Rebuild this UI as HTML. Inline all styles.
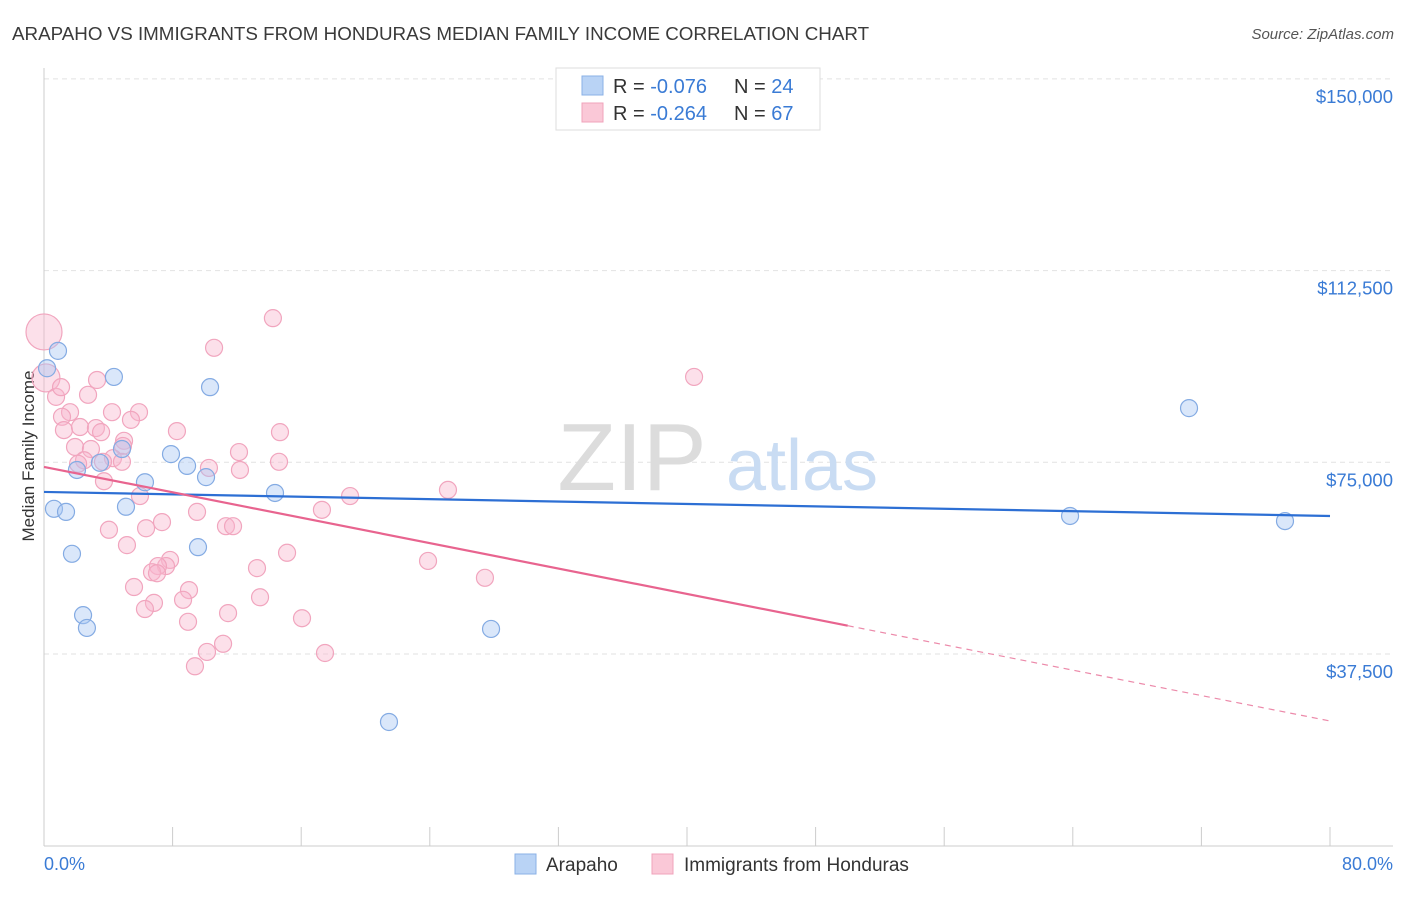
<!DOCTYPE html>
<html><head><meta charset="utf-8"><style>
body{margin:0;background:#fff;font-family:"Liberation Sans",sans-serif;}
svg text{font-family:"Liberation Sans",sans-serif;}
</style></head><body>
<svg id="chart" width="1406" height="892" viewBox="0 0 1406 892" xmlns="http://www.w3.org/2000/svg">
<text x="12" y="40" font-size="18.8" fill="#3a3a3a">ARAPAHO VS IMMIGRANTS FROM HONDURAS MEDIAN FAMILY INCOME CORRELATION CHART</text>
<text x="1394" y="39" font-size="15" fill="#555" font-style="italic" text-anchor="end">Source: ZipAtlas.com</text>
<g id="grid"></g>
<g>
<text x="632" y="490" font-size="96" fill="#dcdcdc" font-family="Liberation Serif,serif" text-anchor="middle">ZIP</text>
<text x="802" y="490" font-size="72" fill="#c9dcf3" text-anchor="middle">atlas</text>
</g>
<text transform="translate(34,456) rotate(-90)" font-size="17" fill="#333" text-anchor="middle">Median Family Income</text>
<g id="marks"></g>
<g>
<rect x="556" y="68" width="264" height="62" fill="#fff" stroke="#ddd"/>
<rect x="582" y="76" width="21" height="19" fill="#b9d3f5" stroke="#8ab0e6"/>
<rect x="582" y="103" width="21" height="19" fill="#fac8d7" stroke="#f0a3bb"/>
<text x="613" y="93" font-size="20" fill="#333">R = <tspan fill="#3a7bd5">-0.076</tspan></text>
<text x="734" y="93" font-size="20" fill="#333">N = <tspan fill="#3a7bd5">24</tspan></text>
<text x="613" y="120" font-size="20" fill="#333">R = <tspan fill="#3a7bd5">-0.264</tspan></text>
<text x="734" y="120" font-size="20" fill="#333">N = <tspan fill="#3a7bd5">67</tspan></text>
</g>
<g>
<rect x="515" y="854" width="21" height="20" fill="#b9d3f5" stroke="#8ab0e6"/>
<text x="546" y="871" font-size="19" fill="#333">Arapaho</text>
<rect x="652" y="854" width="21" height="20" fill="#fac8d7" stroke="#f0a3bb"/>
<text x="684" y="871" font-size="19" fill="#333">Immigrants from Honduras</text>
</g>
<text x="44" y="870" font-size="18" fill="#3a7bd5">0.0%</text>
<text x="1393" y="870" font-size="18" fill="#3a7bd5" text-anchor="end">80.0%</text>
</svg>
<script>
const yTicks=[37500,75000,112500,150000];
const yTickLabels=["$37,500","$75,000","$112,500","$150,000"];
const xTicks=[0,8,16,24,32,40,48,56,64,72,80];
const arapahoX=[0.87,0.19,4.35,10.33,71.23,4.85,7.90,3.48,2.05,8.90,10.08,6.28,14.37,0.62,1.37,5.10,63.83,77.2,9.58,1.74,2.43,2.67,27.81,21.46];
const arapahoY=[96.8,93.4,91.7,89.7,85.6,77.6,76.6,74.9,73.5,74.3,72.1,71.1,69.0,65.9,65.3,66.3,64.5,63.5,58.4,57.1,45.1,42.6,42.4,24.2];
const hondurasX=[0,0.12,0.75,2.74,3.30,14.24,10.58,40.44,1.62,1.12,4.23,5.91,5.41,1.24,2.24,3.23,3.55,8.27,14.68,4.98,1.93,2.92,4.91,12.13,4.29,2.49,3.67,2.12,4.85,10.26,14.62,12.19,3.73,5.97,19.04,25.13,17.29,9.52,7.34,6.35,11.32,11.76,4.04,5.16,15.12,23.89,7.84,7.59,7.09,13.25,6.72,7.03,27.43,5.60,9.02,13.44,8.65,6.84,6.28,11.45,16.05,8.96,11.14,10.14,17.48,9.39,1.06];
const hondurasY=[100.5,91.5,87.8,88.2,91.1,103.2,97.4,91.7,84.8,83.9,84.8,84.8,83.3,81.3,81.9,81.7,80.9,81.1,80.9,79.2,78.0,77.6,78.2,77.0,75.8,75.4,75.1,74.7,75.1,73.9,75.1,73.5,71.3,68.4,68.4,69.6,65.7,65.3,63.3,62.1,62.5,62.5,61.8,58.8,57.3,55.7,55.9,54.7,54.7,54.3,53.5,53.3,52.4,50.6,50.0,48.6,48.1,47.5,46.3,45.5,44.5,43.8,39.5,37.9,37.7,35.1,89.7];
const hondurasR=[18,14];
const arapahoTrend=[69.2,64.5];
const hondurasTrend=[74.1,24.4];
const hondurasSolidEnd=50;

const NS="http://www.w3.org/2000/svg";
const X0=44,X1=1330,Y0=845.7,PXK=191.7/37.5;
const sx=v=>X0+(v/80)*(X1-X0);
const sy=k=>Y0-k*PXK;
function mk(t,a,p){const e=document.createElementNS(NS,t);for(const k in a)e.setAttribute(k,a[k]);p.appendChild(e);return e;}
const grid=document.getElementById('grid');
yTicks.forEach((v,i)=>{
 const y=sy(v/1000);
 const l=mk('line',{x1:44,x2:1393,y1:y,y2:y,stroke:'#e2e2e2','stroke-dasharray':'5,4'},grid);
 
 
 const t=mk('text',{x:1393,y:y+24,'font-size':18.5,fill:'#3a7bd5','text-anchor':'end'},grid);
 t.textContent=yTickLabels[i];
 
 
});
const ax=mk('line',{x1:44,x2:44,y1:68,y2:846,stroke:'#ccc'},grid);


const bx=mk('line',{x1:44,x2:1393,y1:846,y2:846,stroke:'#ccc'},grid);


xTicks.forEach(v=>{
 const t=mk('line',{x1:sx(v),x2:sx(v),y1:827,y2:846,stroke:'#ccc'},grid);
 
 
});
const marks=document.getElementById('marks');
hondurasX.forEach((v,i)=>{
 const c=mk('circle',{cx:sx(v),cy:sy(hondurasY[i]),r:hondurasR[i]||8.5,fill:'rgba(248,182,204,0.42)',stroke:'#f1a5be','stroke-width':1.2},marks);
 
 
});
arapahoX.forEach((v,i)=>{
 const c=mk('circle',{cx:sx(v),cy:sy(arapahoY[i]),r:8.5,fill:'rgba(168,198,244,0.42)',stroke:'#84abe3','stroke-width':1.2},marks);
 
 
});
const bl=mk('line',{x1:sx(0),y1:sy(arapahoTrend[0]),x2:sx(80),y2:sy(arapahoTrend[1]),stroke:'#2d6fd4','stroke-width':2.2},marks);


const hy=x=>hondurasTrend[0]+(hondurasTrend[1]-hondurasTrend[0])*x/80;
const pl=mk('line',{x1:sx(0),y1:sy(hy(0)),x2:sx(hondurasSolidEnd),y2:sy(hy(hondurasSolidEnd)),stroke:'#e8648f','stroke-width':2.2},marks);


const pd=mk('line',{x1:sx(hondurasSolidEnd),y1:sy(hy(hondurasSolidEnd)),x2:sx(80),y2:sy(hy(80)),stroke:'#ec8aaa','stroke-width':1.2,'stroke-dasharray':'6,5'},marks);


</script>
</body></html>
